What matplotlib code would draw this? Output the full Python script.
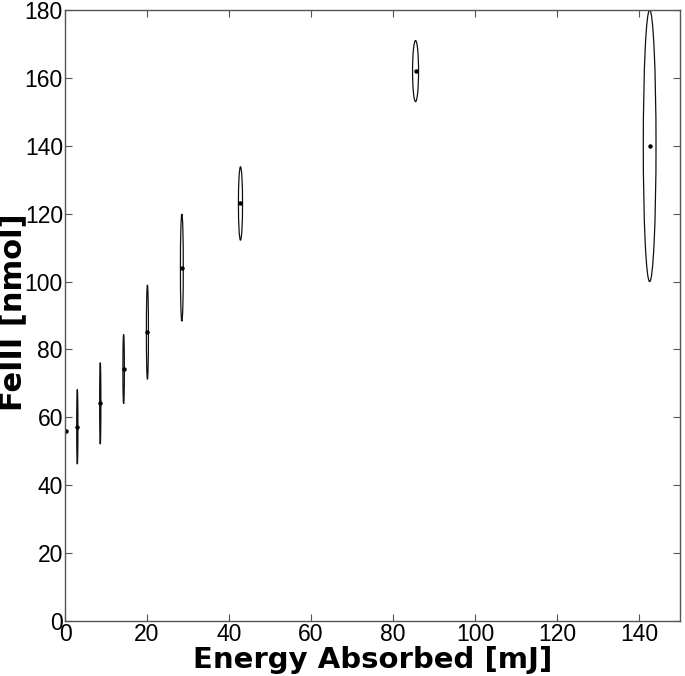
import matplotlib
matplotlib.use("Agg")
import matplotlib.pyplot as plt
from matplotlib.patches import Ellipse

# energy absorbed [mJ], FeIII [nmol], ellipse half-widths
energy = [0.2, 3.0, 8.6, 14.3, 20.1, 28.5, 42.8, 85.5, 142.6]
fe3 = [56.0, 57.2, 64.1, 74.2, 85.1, 104.1, 123.0, 162.0, 140.0]
energy_err = [0.0, 0.15, 0.15, 0.18, 0.25, 0.35, 0.5, 0.73, 1.55]
fe3_err = [0.0, 11.0, 12.0, 10.2, 13.9, 15.8, 10.8, 9.0, 40.0]

xticks = [0, 20, 40, 60, 80, 100, 120, 140]
yticks = [0, 20, 40, 60, 80, 100, 120, 140, 160, 180]

fig = plt.figure(figsize=(6.85, 6.76), dpi=100)
ax = fig.add_axes([0.0949, 0.0814, 0.8978, 0.9038])

for x, y, ex, ey in zip(energy, fe3, energy_err, fe3_err):
    if ey > 0:
        ax.add_patch(Ellipse((x, y), 2 * ex, 2 * ey, fill=False,
                             edgecolor='#111111', lw=0.9))
ax.plot(energy, fe3, 'o', color='black', ms=2.2, ls='none')

ax.set_xlim(0, 150)
ax.set_ylim(0, 180)
ax.set_xticks(xticks)
ax.set_yticks(yticks)

tick_font = dict(family=['Liberation Sans', 'DejaVu Sans'], size=16.5)
ax.set_xticklabels([str(t) for t in xticks], fontdict=tick_font)
ax.set_yticklabels([str(t) for t in yticks], fontdict=tick_font)
ax.tick_params(direction='in', length=5, width=0.8, color='#555555',
               top=True, right=True, pad=1.5)
for s in ax.spines.values():
    s.set_color('#555555')
    s.set_linewidth(1.0)

ax.set_xlabel('Energy Absorbed [mJ]', fontsize=21, fontweight='bold',
              family='DejaVu Sans', labelpad=0)
ax.set_ylabel('FeIII [nmol]', fontsize=22, fontweight='bold',
              family='DejaVu Sans')
ax.yaxis.set_label_coords(-0.061, 0.506)

fig.savefig('out.png', dpi=100)
